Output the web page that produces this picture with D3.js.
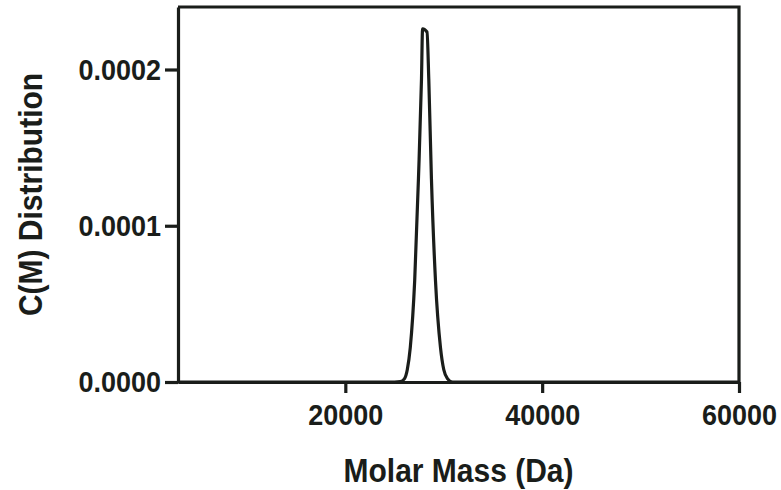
<!DOCTYPE html>
<html>
<head>
<meta charset="utf-8">
<script src="https://cdn.jsdelivr.net/npm/d3@7"></script>
<style>
  body { margin: 0; background: #fff; }
  text { font-family: "Liberation Sans", Arial, sans-serif; font-weight: bold; fill: #1a1d1a; }
</style>
</head>
<body>
<svg id="chart" width="781" height="490"></svg>
<script>
// molar mass (Da) and c(M) values
var massValues = [3000, 25000, 25600, 26000, 26300, 26600, 27050, 27430, 27740, 27850, 28300, 28480, 28750, 29160, 29670, 30000, 30400, 30900, 60000];
var cmValues = [0, 0, 0.0000003, 0.000002, 0.000008, 0.000022, 0.000065, 0.00013, 0.000194, 0.000226, 0.000224, 0.000194, 0.00013, 0.000065, 0.000022, 0.000008, 0.000002, 0, 0];
var xTicks = [20000, 40000, 60000];
var yTicks = [0, 0.0001, 0.0002];

var ink = "#1a1d1a";
var plotLeft = 178, plotRight = 739, plotTop = 7, plotBottom = 382;

var svg = d3.select("#chart");

var x = d3.scaleLinear().domain([3000, 60000]).range([plotLeft, plotRight]);
var y = d3.scaleLinear().domain([0, 0.00024]).range([plotBottom, plotTop]);

var points = massValues.map(function(m, i) { return [m, cmValues[i]]; });

// frame: top and right edges
svg.append("path")
   .attr("d", "M" + plotLeft + "," + plotTop + "H" + plotRight + "V" + plotBottom)
   .attr("fill", "none")
   .attr("stroke", ink)
   .attr("stroke-width", 3.2);

var xAxis = svg.append("g")
   .attr("transform", "translate(0," + plotBottom + ")")
   .call(d3.axisBottom(x).tickValues(xTicks).tickFormat(d3.format("d")).tickSize(11).tickSizeOuter(0).tickPadding(8));

var yAxis = svg.append("g")
   .attr("transform", "translate(" + plotLeft + ",0)")
   .call(d3.axisLeft(y).tickValues(yTicks).tickFormat(d3.format(".4f")).tickSize(13).tickSizeOuter(0).tickPadding(4));

[xAxis, yAxis].forEach(function(a) {
  a.selectAll("path, line").attr("stroke", ink).attr("stroke-width", 3.2);
  // the reference lettering is a little taller than it is wide
  a.selectAll("text")
   .attr("fill", ink)
   .attr("transform", "scale(1,1.12)")
   .style("font-size", "27px")
   .style("font-family", "'Liberation Sans', Arial, sans-serif")
   .style("font-weight", "bold");
});

// the distribution curve
svg.append("path")
   .datum(points)
   .attr("fill", "none")
   .attr("stroke", ink)
   .attr("stroke-width", 3.2)
   .attr("stroke-linejoin", "round")
   .attr("d", d3.line()
      .x(function(d) { return x(d[0]); })
      .y(function(d) { return y(d[1]); })
      .curve(d3.curveMonotoneX));

// axis titles
svg.append("text")
   .attr("transform", "translate(" + ((plotLeft + plotRight) / 2) + ",482) scale(1,1.1)")
   .attr("text-anchor", "middle")
   .style("font-size", "30px")
   .text("Molar Mass (Da)");

svg.append("text")
   .attr("transform", "translate(42," + ((plotTop + plotBottom) / 2) + ") rotate(-90) scale(1,1.12)")
   .attr("text-anchor", "middle")
   .style("font-size", "30px")
   .text("C(M) Distribution");
</script>
</body>
</html>
